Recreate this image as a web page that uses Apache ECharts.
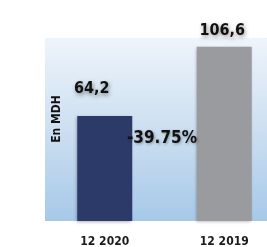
<!DOCTYPE html>
<html>
<head>
<meta charset="utf-8">
<script src="https://cdn.jsdelivr.net/npm/echarts@6/dist/echarts.min.js"></script>
<style>
  html, body { margin: 0; padding: 0; background: #fff; }
  #main { width: 267px; height: 247px; }
</style>
</head>
<body>
<div id="main"></div>
<script>
// données
var categories = ['12 2020', '12 2019'];
var values = [64.2, 106.6];
var barColors = ['#2c3a6a', '#9a9b9e'];
var variation = '-39.75%';
var unitName = 'En MDH';

// placement des étiquettes (style)
var labelDistance = [19, 8];
var labelOffset = [[-13, 0], [-2, 0]];

var FONT = '"DejaVu Sans Condensed", "DejaVu Sans", sans-serif';

var chart = echarts.init(document.getElementById('main'));

var barData = [];
for (var i = 0; i < values.length; i++) {
  barData.push({
    value: values[i],
    itemStyle: { color: barColors[i] },
    label: { distance: labelDistance[i], offset: labelOffset[i] }
  });
}

var option = {
  animation: false,
  grid: {
    left: 45, top: 38, bottom: 26, width: 239,
    outerBoundsMode: 'none',
    containLabel: false,
    show: true, borderWidth: 0,
    backgroundColor: new echarts.graphic.LinearGradient(0, 0, 0, 1, [
      { offset: 0, color: '#eef4fb' },
      { offset: 0.5, color: '#cddff1' },
      { offset: 1, color: '#a6c9e8' }
    ])
  },
  xAxis: {
    type: 'category',
    data: categories,
    axisLine: { show: false },
    axisTick: { show: false },
    axisLabel: {
      margin: 15,
      color: '#1a1a1a',
      fontFamily: FONT,
      fontWeight: 'bold',
      fontSize: 12
    }
  },
  yAxis: {
    type: 'value',
    min: 0, max: 112,
    show: false
  },
  series: [{
    type: 'bar',
    barWidth: 55,
    data: barData,
    itemStyle: {
      shadowColor: 'rgba(0,0,0,0.3)',
      shadowBlur: 3,
      shadowOffsetX: -1,
      shadowOffsetY: 1
    },
    label: {
      show: true,
      position: 'top',
      color: '#111',
      fontFamily: FONT,
      fontWeight: 'bold',
      fontSize: 16,
      textShadowColor: 'rgba(0,0,0,0.45)',
      textShadowBlur: 4,
      textShadowOffsetX: 1,
      textShadowOffsetY: 2,
      formatter: function (p) { return String(p.value).replace('.', ','); }
    }
  }],
  graphic: [
    {
      type: 'text',
      z: 100,
      x: 162, y: 139,
      style: {
        text: variation,
        fill: '#111',
        font: 'bold 17px ' + FONT,
        textAlign: 'center',
        textVerticalAlign: 'middle',
        textShadowColor: 'rgba(0,0,0,0.35)',
        textShadowBlur: 3,
        textShadowOffsetX: 1,
        textShadowOffsetY: 1
      }
    },
    {
      type: 'text',
      z: 100,
      x: 57, y: 119,
      rotation: Math.PI / 2,
      style: {
        text: unitName,
        fill: '#111',
        font: 'bold 12px ' + FONT,
        textAlign: 'center',
        textVerticalAlign: 'middle'
      }
    }
  ]
};

chart.setOption(option);
</script>
</body>
</html>
